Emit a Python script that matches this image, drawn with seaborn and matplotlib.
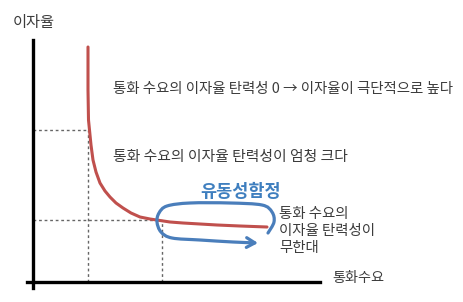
import numpy as np
import pandas as pd
import matplotlib
matplotlib.use("Agg")
import matplotlib.pyplot as plt
from matplotlib.path import Path
from matplotlib.patches import FancyArrowPatch
import seaborn as sns

# Money demand curve
money_demand = [55, 55, 55.5, 57, 58, 60, 63, 67, 72, 77, 83, 90, 98, 107,
                117, 127, 137, 150, 167, 184, 207, 234]
interest_rate = [235, 192, 162, 147, 137, 122, 110, 99, 91, 85, 79, 74, 69, 65,
                 63, 61.5, 60, 59, 58, 57, 56, 55]

# reference points (dashed guides)
guide_x = [55, 129]
guide_y = [152, 62]

# liquidity-trap loop (annotation shape)
loop_x = [235, 241, 239, 229, 197, 157, 134, 126, 124, 128, 139, 167, 200, 225]
loop_y = [49, 60, 70, 77, 79, 79, 76, 69, 60, 50, 44, 42, 40, 39]

labels = {
    "ylabel": "이자율",
    "xlabel": "통화수요",
    "top": "통화 수요의 이자율 탄력성 0 → 이자율이 극단적으로 높다",
    "mid": "통화 수요의 이자율 탄력성이 엄청 크다",
    "trap": "유동성함정",
    "right": "통화 수요의\n이자율 탄력성이\n무한대",
}

sns.set_theme(style="white")
plt.rcParams["font.family"] = ["Noto Sans CJK KR", "DejaVu Sans"]

fig = plt.figure(figsize=(4.63, 3.02), dpi=100)
ax = fig.add_axes([0, 0, 1, 1])
ax.set_xlim(-33, 430)
ax.set_ylim(-20, 282)

df = pd.DataFrame({"M": money_demand, "r": interest_rate})
sns.lineplot(data=df, x="M", y="r", sort=False, estimator=None, color="#c0504d",
             linewidth=2.2, ax=ax, zorder=3)

# dashed guides
for gx, gy in zip(guide_x, guide_y):
    ax.plot([0, gx], [gy, gy], color="#666666", lw=1, ls=(0, (2, 2)), zorder=2)
    ax.plot([gx, gx], [0, gy], color="#666666", lw=1, ls=(0, (2, 2)), zorder=2)

# axes as spines
ax.set_xlabel("")
ax.set_ylabel("")
ax.set_xticks([])
ax.set_yticks([])
for s in ["top", "right"]:
    ax.spines[s].set_visible(False)
ax.spines["left"].set_position(("data", 0))
ax.spines["bottom"].set_position(("data", 0))
ax.spines["left"].set_bounds(-6, 242)
ax.spines["bottom"].set_bounds(-6, 287)
for s in ["left", "bottom"]:
    ax.spines[s].set_color("black")
    ax.spines[s].set_linewidth(2.4)

# loop path with Catmull-Rom style bezier
pts = np.column_stack([loop_x, loop_y]).astype(float)
verts = [tuple(pts[0])]
codes = [Path.MOVETO]
n = len(pts)
for i in range(n - 1):
    p0 = pts[max(i - 1, 0)]
    p1 = pts[i]
    p2 = pts[i + 1]
    p3 = pts[min(i + 2, n - 1)]
    c1 = p1 + (p2 - p0) / 6.0
    c2 = p2 - (p3 - p1) / 6.0
    verts += [tuple(c1), tuple(c2), tuple(p2)]
    codes += [Path.CURVE4] * 3
loop = FancyArrowPatch(path=Path(verts, codes), arrowstyle="->,head_length=6,head_width=3.5",
                       color="#4a7ebb", lw=2.3, zorder=4)
ax.add_patch(loop)

txt = "#3c3c3c"
ax.text(-20, 259, labels["ylabel"], fontsize=11, color=txt, ha="left", va="center", fontweight=500)
ax.text(299, 4, labels["xlabel"], fontsize=10.2, color=txt, ha="left", va="center", fontweight=500)
ax.text(80, 193, labels["top"], fontsize=10.4, color=txt, ha="left", va="center", fontweight=500)
ax.text(80, 125, labels["mid"], fontsize=10.7, color=txt, ha="left", va="center", fontweight=500)
ax.text(208, 90, labels["trap"], fontsize=12.6, color="#3f7fbf", fontweight="bold", ha="center", va="center")
ax.text(246, 51, labels["right"], fontsize=10.4, color=txt, ha="left", va="center", linespacing=1.25,
        fontweight=500)

fig.savefig("out.png", dpi=100)
